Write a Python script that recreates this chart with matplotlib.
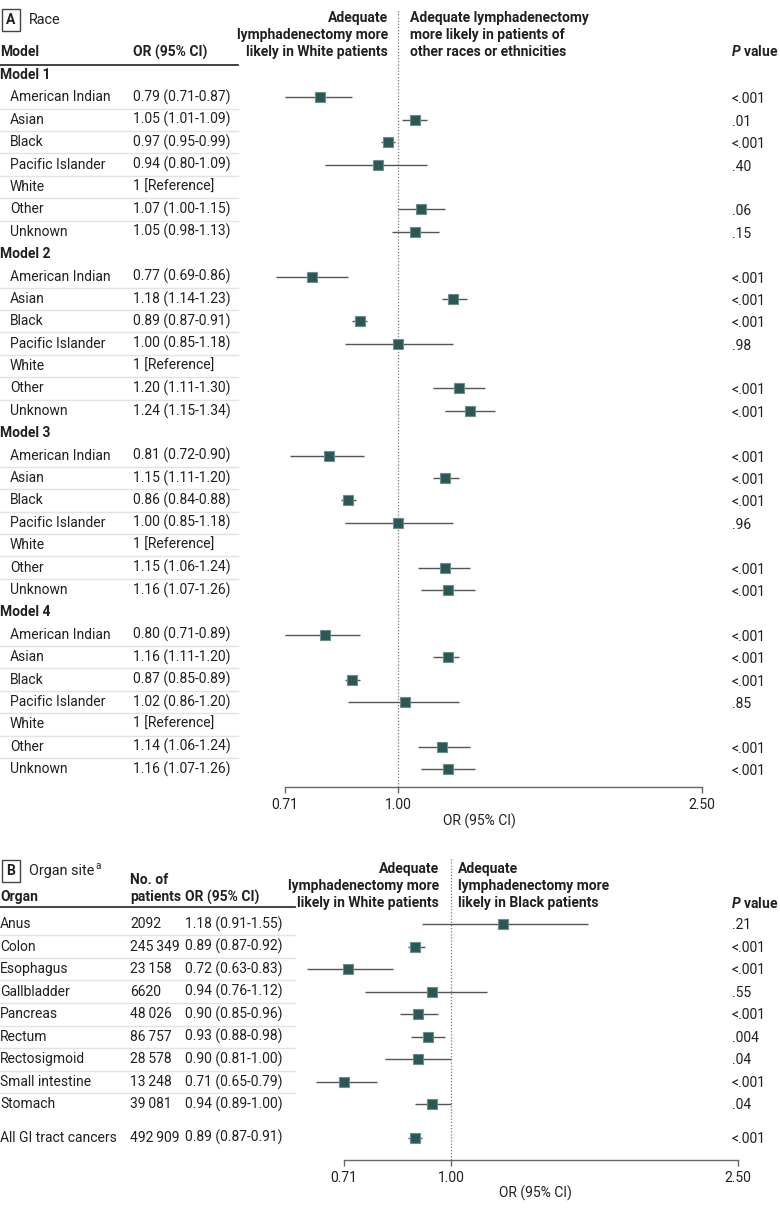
import matplotlib
matplotlib.use("Agg")
import matplotlib.pyplot as plt
from matplotlib.patches import Rectangle

plt.rcParams['font.family'] = ['Roboto', 'DejaVu Sans']
plt.rcParams['mathtext.fontset'] = 'custom'
plt.rcParams['mathtext.it'] = 'Roboto:italic:bold'
plt.rcParams['mathtext.rm'] = 'Roboto:bold'

# ---------------- Data: Panel A (Race) ----------------
models = ["Model 1", "Model 2", "Model 3", "Model 4"]
races = ["American Indian", "Asian", "Black", "Pacific Islander", "White", "Other", "Unknown"]
or_m1 = [0.79, 1.05, 0.97, 0.94, None, 1.07, 1.05]
lo_m1 = [0.71, 1.01, 0.95, 0.80, None, 1.00, 0.98]
hi_m1 = [0.87, 1.09, 0.99, 1.09, None, 1.15, 1.13]
p_m1 = ["<.001", ".01", "<.001", ".40", "", ".06", ".15"]
or_m2 = [0.77, 1.18, 0.89, 1.00, None, 1.20, 1.24]
lo_m2 = [0.69, 1.14, 0.87, 0.85, None, 1.11, 1.15]
hi_m2 = [0.86, 1.23, 0.91, 1.18, None, 1.30, 1.34]
p_m2 = ["<.001", "<.001", "<.001", ".98", "", "<.001", "<.001"]
or_m3 = [0.81, 1.15, 0.86, 1.00, None, 1.15, 1.16]
lo_m3 = [0.72, 1.11, 0.84, 0.85, None, 1.06, 1.07]
hi_m3 = [0.90, 1.20, 0.88, 1.18, None, 1.24, 1.26]
p_m3 = ["<.001", "<.001", "<.001", ".96", "", "<.001", "<.001"]
or_m4 = [0.80, 1.16, 0.87, 1.02, None, 1.14, 1.16]
lo_m4 = [0.71, 1.11, 0.85, 0.86, None, 1.06, 1.07]
hi_m4 = [0.89, 1.20, 0.89, 1.20, None, 1.24, 1.26]
p_m4 = ["<.001", "<.001", "<.001", ".85", "", "<.001", "<.001"]

# ---------------- Data: Panel B (Organ site) ----------------
organs = ["Anus", "Colon", "Esophagus", "Gallbladder", "Pancreas", "Rectum",
          "Rectosigmoid", "Small intestine", "Stomach", "All GI tract cancers"]
n_patients = ["2092", "245\u2009349", "23\u2009158", "6620", "48\u2009026", "86\u2009757",
              "28\u2009578", "13\u2009248", "39\u2009081", "492\u2009909"]
or_b = [1.18, 0.89, 0.72, 0.94, 0.90, 0.93, 0.90, 0.71, 0.94, 0.89]
lo_b = [0.91, 0.87, 0.63, 0.76, 0.85, 0.88, 0.81, 0.65, 0.89, 0.87]
hi_b = [1.55, 0.92, 0.83, 1.12, 0.96, 0.98, 1.00, 0.79, 1.00, 0.91]
p_b = [".21", "<.001", "<.001", ".55", "<.001", ".004", ".04", "<.001", ".04", "<.001"]

ticks = [0.71, 1.00, 2.50]
tick_labels = ["0.71", "1.00", "2.50"]

# ---------------- Figure setup ----------------
W, H = 780, 1214
fig = plt.figure(figsize=(W / 100, H / 100), dpi=100)
ov = fig.add_axes([0, 0, 1, 1])
ov.set_xlim(0, W)
ov.set_ylim(H, 0)
ov.axis("off")

TXT = "#231f20"
FS = 10.0
MFACE = "#2b5856"
MEDGE = "#6a8f8d"
LINEC = "#555555"
SEP = "#e4e4dc"


def fax(x0, x1, ytop, ybot):
    ax = fig.add_axes([x0 / W, 1 - ybot / H, (x1 - x0) / W, (ybot - ytop) / H])
    ax.set_xscale("log")
    ax.set_xlim(ticks[0], ticks[-1])
    ax.set_ylim(ybot, ytop)
    ax.patch.set_alpha(0)
    for s in ["top", "right", "left"]:
        ax.spines[s].set_visible(False)
    ax.spines["bottom"].set_color("#666666")
    ax.spines["bottom"].set_linewidth(1.0)
    ax.set_yticks([])
    ax.set_xticks(ticks)
    ax.set_xticklabels(tick_labels, fontsize=FS, color=TXT)
    ax.minorticks_off()
    ax.tick_params(axis="x", direction="out", length=4, width=1, color="#666666", pad=4)
    ax.axvline(1.0, color="#777777", lw=0.9, ls=(0, (1, 1.5)))
    return ax


def draw_point(ax, y, o, lo, hi):
    ax.hlines(y, lo, hi, color=LINEC, lw=1.0, clip_on=False)
    ax.plot([o], [y], marker="s", ms=7.6, mfc=MFACE, mec=MEDGE, mew=0.8,
            clip_on=False, zorder=3)


def label_box(x, y, letter, title):
    ov.add_patch(Rectangle((x, y - 11), 18, 22, fill=False, ec="#444444", lw=1.0))
    ov.text(x + 9, y, letter, ha="center", va="center", fontsize=FS, fontweight="bold", color=TXT)
    t = ov.text(x + 27, y, title, ha="left", va="center", fontsize=FS + 0.4, color=TXT)
    return t


# ================= Panel A =================
AX0, AX1 = 285, 702
A_TOP, A_BOT = 10, 787
axA = fax(AX0, AX1, A_TOP, A_BOT)

label_box(2, 20, "A", "Race")
ov.text(0, 52, "Model", fontsize=FS, fontweight="bold", va="center", color=TXT)
ov.text(133, 52, "OR (95% CI)", fontsize=FS, fontweight="bold", va="center", color=TXT)
ov.plot([0, 238], [65, 65], color="#333333", lw=1.3)

for i, line in enumerate(["Adequate", "lymphadenectomy more", "likely in White patients"]):
    ov.text(388, 18 + 17 * i, line, ha="right", va="center", fontsize=FS, fontweight="bold", color=TXT)
for i, line in enumerate(["Adequate lymphadenectomy", "more likely in patients of", "other races or ethnicities"]):
    ov.text(410, 18 + 17 * i, line, ha="left", va="center", fontsize=FS, fontweight="bold", color=TXT)
ov.text(731, 52, r"$\mathit{P}$ value", ha="left", va="center", fontsize=FS, fontweight="bold", color=TXT)

model_data = [(or_m1, lo_m1, hi_m1, p_m1), (or_m2, lo_m2, hi_m2, p_m2),
              (or_m3, lo_m3, hi_m3, p_m3), (or_m4, lo_m4, hi_m4, p_m4)]
row_h = 22.39
y0 = 75
row = 0
for m, (ors, los, his, ps) in zip(models, model_data):
    y = y0 + row * row_h
    ov.text(0, y, m, fontsize=FS, fontweight="bold", va="center", color=TXT)
    row += 1
    for j, r in enumerate(races):
        y = y0 + row * row_h
        ov.text(10, y, r, fontsize=FS, va="center", color=TXT)
        if ors[j] is None:
            ov.text(133, y, "1 [Reference]", fontsize=FS, va="center", color=TXT)
        else:
            ov.text(133, y, f"{ors[j]:.2f} ({los[j]:.2f}-{his[j]:.2f})", fontsize=FS, va="center", color=TXT)
            draw_point(axA, y, ors[j], los[j], his[j])
            ov.text(732, y + 2, ps[j], fontsize=FS, va="center", color=TXT)
        if j < len(races) - 1:
            ov.plot([0, 238], [y + row_h / 2, y + row_h / 2], color=SEP, lw=1.0)
        row += 1

ov.text(479, 821, "OR (95% CI)", ha="center", va="center", fontsize=FS, color=TXT)

# ================= Panel B =================
BX0, BX1 = 344, 738
B_TOP, B_BOT = 858, 1160
axB = fax(BX0, BX1, B_TOP, B_BOT)

tB = label_box(2, 871, "B", "Organ site")
fig.canvas.draw()
bb = tB.get_window_extent()
x_end = bb.x1  # pixel x (origin left)
ov.text(x_end + 1, 866, "a", fontsize=FS - 3, va="center", color=TXT)
ov.text(130, 880, "No. of", fontsize=FS, fontweight="bold", va="center", color=TXT)
ov.text(130, 897, "patients", fontsize=FS, fontweight="bold", va="center", color=TXT)
ov.text(0, 897, "Organ", fontsize=FS, fontweight="bold", va="center", color=TXT)
ov.text(185, 897, "OR (95% CI)", fontsize=FS, fontweight="bold", va="center", color=TXT)
ov.plot([0, 295], [907, 907], color="#333333", lw=1.3)

for i, line in enumerate(["Adequate", "lymphadenectomy more", "likely in White patients"]):
    ov.text(439, 869 + 17 * i, line, ha="right", va="center", fontsize=FS, fontweight="bold", color=TXT)
for i, line in enumerate(["Adequate", "lymphadenectomy more", "likely in Black patients"]):
    ov.text(458, 869 + 17 * i, line, ha="left", va="center", fontsize=FS, fontweight="bold", color=TXT)
ov.text(731, 903, r"$\mathit{P}$ value", ha="left", va="center", fontsize=FS, fontweight="bold", color=TXT)

rb = 22.56
for k, org in enumerate(organs):
    y = 924 + k * rb + (10.5 if k == len(organs) - 1 else 0)
    ov.text(0, y, org, fontsize=FS, va="center", color=TXT)
    ov.text(130, y, n_patients[k], fontsize=FS, va="center", color=TXT)
    ov.text(185, y, f"{or_b[k]:.2f} ({lo_b[k]:.2f}-{hi_b[k]:.2f})", fontsize=FS, va="center", color=TXT)
    draw_point(axB, y, or_b[k], lo_b[k], hi_b[k])
    ov.text(732, y + 1, p_b[k], fontsize=FS, va="center", color=TXT)
    if k < len(organs) - 2:
        ov.plot([0, 295], [y + rb / 2, y + rb / 2], color=SEP, lw=1.0)

ov.text(535, 1193, "OR (95% CI)", ha="center", va="center", fontsize=FS, color=TXT)

fig.savefig("out.png", dpi=100)
